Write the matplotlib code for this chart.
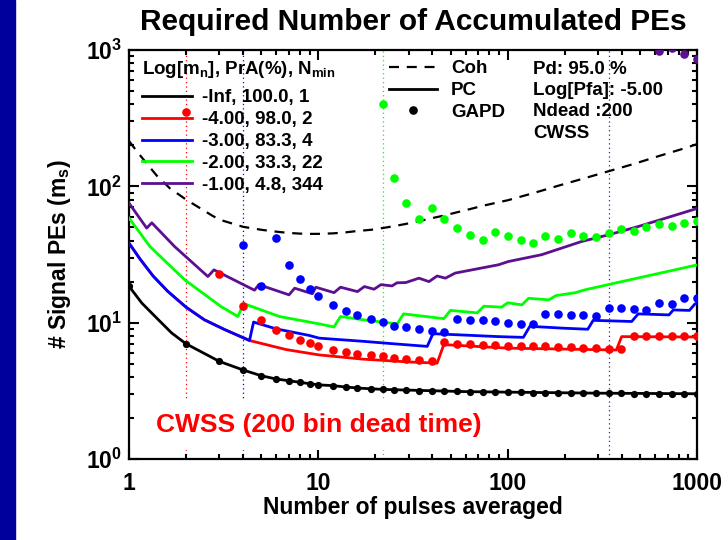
import numpy as np
import matplotlib
matplotlib.use('Agg')
import matplotlib.pyplot as plt
from matplotlib.lines import Line2D
from matplotlib.patches import Rectangle
from matplotlib.ticker import FixedLocator, FuncFormatter, NullFormatter

plt.rcParams['font.family'] = 'Liberation Sans'
plt.rcParams['font.weight'] = 'bold'
plt.rcParams['axes.labelweight'] = 'bold'
plt.rcParams['mathtext.fontset'] = 'custom'
plt.rcParams['mathtext.rm'] = 'Liberation Sans:bold'
plt.rcParams['mathtext.bf'] = 'Liberation Sans:bold'
plt.rcParams['mathtext.it'] = 'Liberation Sans:bold'
plt.rcParams['mathtext.default'] = 'rm'

# classes: Log[m_n], PrA(%), N_min
log_mn = ['-Inf', '-4.00', '-3.00', '-2.00', '-1.00']
pra = [100.0, 98.0, 83.3, 33.3, 4.8]
nmin = [1, 2, 4, 22, 344]
colors = ['black', '#ff0000', '#0000ff', '#00ff00', '#5c1090']

# coherent detection
coh_n = [1, 1.12, 1.4, 1.64, 2, 2.75, 3, 4, 5, 6, 7, 8, 9, 10, 12, 14, 16, 19, 22, 25, 29, 34,
         40, 46, 54, 63, 74, 86, 100, 136, 185, 251, 341, 464, 631, 858, 1000]
coh_m = [215, 175, 120, 97, 80, 61, 57, 50.5, 48, 46.5, 45.5, 45, 44.8, 44.8, 45.2, 46, 47, 48,
         49.5, 51, 53, 55.5, 58.5, 61, 64.5, 68, 72, 75.5, 79, 89, 101, 114, 129, 146, 167, 190, 204]

# photon counting (PC) curves
pc_black_n = [1, 1.17, 1.43, 1.68, 2, 3, 4, 5, 6, 7, 8, 9, 10, 12, 14, 17, 22, 30, 39, 60, 129, 300, 1000]
pc_black_m = [18.5, 13.9, 10.5, 8.4, 7.0, 5.2, 4.5, 4.08, 3.86, 3.75, 3.65, 3.57, 3.5, 3.45, 3.37, 3.3,
              3.24, 3.2, 3.17, 3.12, 3.08, 3.04, 3.01]

pc_red_n = [1, 1.15, 1.34, 1.6, 2, 2.5, 3.2, 4.33, 6.75, 10.1, 17.2, 30, 42.4, 46, 101, 200, 375, 400, 1000]
pc_red_m = [38.3, 29, 22, 17, 13, 10.5, 8.9, 7.4, 6.35, 5.8, 5.4, 5.15, 5.05, 6.9, 6.5, 6.4, 6.3, 7.9, 7.85]

pc_blue_n = [1, 1.15, 1.34, 1.6, 2, 2.5, 3.2, 4.33, 4.55, 6, 8.95, 10.1, 17.2, 25, 37.6, 40.3, 60, 89.6,
             121, 131, 200, 265, 283, 452, 489, 711, 750, 912, 974, 1000]
pc_blue_m = [38.3, 29, 22, 17, 13, 10.5, 8.9, 7.4, 10.1, 9.0, 8.06, 7.7, 7.3, 7.0, 6.7, 8.3, 8.1, 7.9,
             7.8, 9.4, 9.1, 8.95, 10.4, 10.2, 11.6, 11.4, 12.4, 12.3, 13.7, 13.9]

pc_green_n = [1, 1.29, 1.97, 3.07, 3.76, 4.03, 6.23, 10.1, 12.1, 13.1, 17.2, 26.1, 28.2, 46, 49.8, 69,
              74.8, 93, 100, 119, 129, 165, 180, 228, 255, 339, 529, 974, 1000]
pc_green_m = [58.5, 36.2, 20.6, 13.1, 11.1, 13.8, 11.1, 9.8, 9.3, 11.1, 10.5, 9.8, 11.6, 10.7, 12.3, 11.8,
              13.2, 13.0, 14.0, 13.5, 15.1, 14.7, 15.8, 16.6, 17.4, 19.0, 21.8, 26.3, 26.5]

pc_purple_n = [1, 1.24, 1.32, 1.74, 2.61, 2.81, 4.6, 4.85, 7.0, 7.5, 9.3, 9.7, 12.1, 13.1, 16.1, 17.5,
               19.7, 21.4, 24.5, 26, 29, 34, 38.4, 42.4, 46.9, 52.8, 89.6, 101, 151, 246, 339, 489, 974, 1000]
pc_purple_m = [75.3, 49.4, 54.0, 36.2, 21.8, 24.4, 17.3, 19.0, 16.0, 17.9, 16.3, 18.2, 16.6, 18.2, 16.9,
               18.4, 17.6, 19.0, 18.6, 19.6, 19.7, 21.2, 20.0, 22.0, 21.2, 23.1, 26.6, 28.1, 31.5, 39.4,
               44.0, 50.7, 68.0, 69.0]

# GAPD points
gapd_n = [1, 2, 3, 4, 5, 6, 7, 8, 9, 10, 12, 14, 16, 19, 22, 25, 29, 34, 40, 46, 54, 63, 74, 86, 100,
          117, 136, 158, 185, 215, 251, 293, 341, 398, 464, 541, 631, 736, 858, 1000]
gapd_black = [18.5, 7.0, 5.2, 4.5, 4.08, 3.86, 3.75, 3.65, 3.57, 3.5, 3.43, 3.37, 3.32, 3.27, 3.24, 3.22,
              3.2, 3.18, 3.16, 3.14, 3.13, 3.12, 3.11, 3.1, 3.09, 3.08, 3.07, 3.06, 3.05, 3.05, 3.04,
              3.04, 3.03, 3.03, 3.02, 3.02, 3.02, 3.01, 3.01, 3.01]
gapd_red_n = gapd_n[1:]
gapd_red = [348, 22.7, 13.3, 10.4, 8.8, 8.06, 7.4, 7.1, 6.8, 6.3, 6.1, 5.9, 5.8, 5.65, 5.5, 5.45, 5.35,
            5.2, 7.2, 7.0, 7.0, 6.9, 6.85, 6.8, 6.77, 6.7, 6.7, 6.6, 6.58, 6.5, 6.5, 6.43, 6.43, 8.0,
            8.0, 8.0, 8.0, 8.0, 8.0]
gapd_blue_n = gapd_n[3:]
gapd_blue = [37, 18.7, 42, 26.6, 20.9, 17.7, 15.6, 13.5, 12.2, 11.4, 10.6, 10.1, 9.5, 9.3, 9.0, 8.7, 8.6,
             10.7, 10.5, 10.4, 10.2, 9.9, 9.8, 9.8, 11.6, 11.6, 11.3, 11.3, 11.1, 12.8, 12.8, 12.6, 12.4,
             13.9, 13.8, 15.1, 15.1]
gapd_green_n = gapd_n[14:]
gapd_green = [403, 116, 76, 57.5, 69, 57.5, 49.4, 44.1, 40.3, 46.5, 42.9, 40.5, 38.7, 43.4, 41, 45.4,
              43.4, 42.4, 45.8, 48.6, 47.4, 50.2, 53.1, 51.3, 53.7, 56.1]
gapd_purple_n = gapd_n[36:]
gapd_purple = [990, 1040, 936, 856]

fig = plt.figure(figsize=(7.28, 5.4), dpi=100)
fig.patches.append(Rectangle((0, 0), 15 / 728, 1, transform=fig.transFigure,
                             color='#00009c', zorder=0))
ax = fig.add_axes([129 / 728, 81 / 540, 568 / 728, 409 / 540])

# N_min markers
for n, c in zip(nmin[1:], colors[1:]):
    ax.axvline(n, color=c, ls=(0, (1, 2.5)), lw=0.9, zorder=1)

ax.plot(coh_n, coh_m, color='black', ls=(0, (4.5, 3.5)), lw=1.6, zorder=2)

pc_lines = [(pc_black_n, pc_black_m), (pc_red_n, pc_red_m), (pc_blue_n, pc_blue_m),
            (pc_green_n, pc_green_m), (pc_purple_n, pc_purple_m)]
for (n, m), c in zip(pc_lines, colors):
    ax.plot(n, m, color=c, lw=2.0, zorder=3)

gapd = [(gapd_n, gapd_black), (gapd_red_n, gapd_red), (gapd_blue_n, gapd_blue),
        (gapd_green_n, gapd_green), (gapd_purple_n, gapd_purple)]
for (n, m), c in zip(gapd, colors):
    ax.plot(n, m, 'o', color=c, ms=6.2 if c != 'black' else 5.2, mec='none', zorder=4)

ax.set_xscale('log')
ax.set_yscale('log')
ax.set_xlim(1, 1000)
ax.set_ylim(1, 1000)
ax.xaxis.set_major_locator(FixedLocator([1, 10, 100, 1000]))
ax.xaxis.set_major_formatter(FuncFormatter(lambda v, p: '%d' % round(v)))
ax.yaxis.set_major_locator(FixedLocator([1, 10, 100, 1000]))
ax.yaxis.set_major_formatter(FuncFormatter(lambda v, p: r'$10^{%d}$' % round(np.log10(v))))
minors = [k * 10 ** e for e in range(3) for k in range(2, 10)]
ax.xaxis.set_minor_locator(FixedLocator(minors))
ax.yaxis.set_minor_locator(FixedLocator(minors))
ax.xaxis.set_minor_formatter(NullFormatter())
ax.yaxis.set_minor_formatter(NullFormatter())
ax.tick_params(which='both', direction='in', top=True, right=True, width=1.5)
ax.tick_params(which='major', length=7.5, labelsize=16.5)
ax.tick_params(which='minor', length=3.8)
ax.tick_params(axis='x', pad=9)
ax.tick_params(axis='y', pad=5)
for s in ax.spines.values():
    s.set_linewidth(1.6)

ax.set_xlabel('Number of pulses averaged', fontsize=16.5, labelpad=1)
ax.set_ylabel(r'# Signal PEs (m$_s$)', fontsize=16.5, labelpad=9)
fig.text(413 / 728, 1 - 22 / 540, 'Required Number of Accumulated PEs', fontsize=21.5,
         ha='center', va='center')

# class legend
ax.text(13 / 568, 1 - 20 / 409, r'Log[m$_n$], PrA(%), N$_{min}$', transform=ax.transAxes,
        fontsize=13.5, ha='left', va='center')
handles = [Line2D([], [], color=c, lw=2.0) for c in colors]
labels = ['%s, %.1f, %d' % (a, b, n) for a, b, n in zip(log_mn, pra, nmin)]
leg1 = ax.legend(handles, labels, loc='upper left', bbox_to_anchor=(0.004, 0.929),
                 frameon=False, fontsize=13.5, handlelength=2.67, handletextpad=0.53,
                 labelspacing=0.25, borderaxespad=0.25, borderpad=0.3)
ax.add_artist(leg1)

# detector legend
handles2 = [Line2D([], [], color='black', ls=(0, (4.5, 3.5)), lw=1.6),
            Line2D([], [], color='black', lw=2.0),
            Line2D([], [], color='black', marker='o', ls='none', ms=5.2)]
leg2 = ax.legend(handles2, ['Coh', 'PC', 'GAPD'], loc='upper left', bbox_to_anchor=(0.44, 1.0),
                 frameon=False, fontsize=13.5, handlelength=2.56, handletextpad=0.73,
                 labelspacing=0.24, borderaxespad=0.25, borderpad=0.3)

ax.text(0.711, 0.974, 'Pd: 95.0 %\nLog[Pfa]: -5.00\nNdead :200\nCWSS', transform=ax.transAxes,
        fontsize=13.5, va='top', ha='left', linespacing=1.33)

ax.text(0.335, 0.083, 'CWSS (200 bin dead time)', transform=ax.transAxes, color='#ff0000',
        fontsize=19, ha='center', va='center', zorder=5,
        bbox=dict(boxstyle='square,pad=0.5', fc='white', ec='none'))

fig.savefig('out.png', dpi=100)
